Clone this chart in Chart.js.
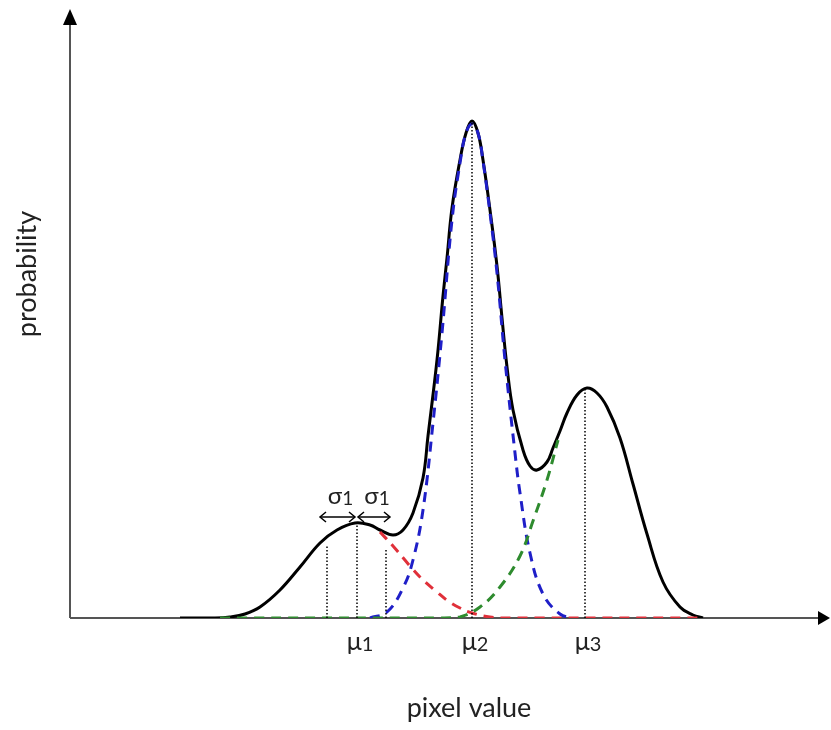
<!DOCTYPE html>
<html>
<head>
<meta charset="utf-8">
<script src="https://cdn.jsdelivr.net/npm/chart.js@4"></script>
<style>
  body { margin: 0; background: #fff; }
  #wrap { width: 831px; height: 730px; }
</style>
</head>
<body>
<div id="wrap"><canvas id="mix-chart"></canvas></div>
<script>
// values (x = pixel value units, y = probability units)
const mixX = [110, 145, 160, 175, 190, 210, 230, 250, 267, 285, 300, 310, 323, 333, 343, 353, 358, 367, 373, 377, 382, 390, 396, 402, 408, 413, 420, 427, 432, 437, 443, 453, 460, 467, 477, 483, 490, 497, 507, 517, 527, 537, 550, 563, 577, 593, 610, 623, 633];
const mixY = [0, 0, 1, 4, 11, 28, 51, 75, 88, 95, 93, 88, 83, 88, 105, 140, 182, 258, 322, 360, 410, 458, 485, 497, 485, 458, 408, 352, 300, 251, 208, 168, 152, 148, 156, 170, 187, 205, 223, 230, 225, 211, 180, 134, 84, 36, 11, 3, 0];

const comp1X = [310, 323, 340, 353, 367, 378, 390, 402, 420, 440, 630];
const comp1Y = [86, 72, 52, 38, 26, 17, 10, 5, 1, 0, 0];

const comp2X = [300, 317, 333, 343, 353, 363, 372, 382, 390, 396, 402, 408, 413, 420, 427, 435, 445, 450, 460, 473, 490, 503];
const comp2Y = [0, 6, 30, 58, 108, 195, 285, 398, 455, 485, 494, 485, 457, 405, 345, 258, 165, 125, 65, 24, 4, 0];

const comp3X = [150, 370, 390, 410, 430, 450, 463, 477, 488];
const comp3Y = [0, 0, 1, 11, 31, 62, 97, 138, 178];

const muX = [287, 402, 515];
const muH = [93, 496, 230];
const muLabels = ['μ', 'μ', 'μ'];
const muSubs = ['1', '2', '3'];
const sigmaX = [257, 316];
const sigmaH = [73, 70];
const sigmaLabels = ['σ', 'σ'];
const sigmaSub = '1';
const arrowY = 101;
const arrowSpans = [[250, 285], [288, 320]];

const xTitle = 'pixel value';
const yTitle = 'probability';

const FONT = 'Lato, "Open Sans", sans-serif';

function pts(xs, ys) {
  return xs.map((x, i) => ({ x: x, y: ys[i] }));
}

const datasets = [];
// dotted guide lines
muX.forEach((m, i) => {
  datasets.push({ data: [{ x: m, y: 0 }, { x: m, y: muH[i] }], borderColor: '#000', borderWidth: 1.5, borderDash: [1.5, 2], pointRadius: 0 });
});
sigmaX.forEach((s, i) => {
  datasets.push({ data: [{ x: s, y: 0 }, { x: s, y: sigmaH[i] }], borderColor: '#000', borderWidth: 1.5, borderDash: [1.5, 2], pointRadius: 0 });
});
// sigma arrow shafts
arrowSpans.forEach(sp => {
  datasets.push({ data: [{ x: sp[0], y: arrowY }, { x: sp[1], y: arrowY }], borderColor: '#000', borderWidth: 1.5, pointRadius: 0 });
});
// components
datasets.push({ label: 'c3', data: pts(comp3X, comp3Y), borderColor: '#2e8b2e', borderWidth: 3, borderDash: [10, 7], pointRadius: 0, tension: 0.4 });
datasets.push({ label: 'c1', data: pts(comp1X, comp1Y), borderColor: '#e0303a', borderWidth: 3, borderDash: [10, 7], pointRadius: 0, tension: 0.4 });
datasets.push({ label: 'c2', data: pts(comp2X, comp2Y), borderColor: '#1f1fc8', borderWidth: 3, borderDash: [10, 7], pointRadius: 0, tension: 0.4 });
// mixture
datasets.push({ label: 'mix', data: pts(mixX, mixY), borderColor: '#000', borderWidth: 3, pointRadius: 0, tension: 0.4 });

const axesPlugin = {
  id: 'axes',
  beforeDatasetsDraw(chart) {
    const ctx = chart.ctx;
    const a = chart.chartArea;
    ctx.save();
    ctx.strokeStyle = '#555';
    ctx.lineWidth = 2;
    ctx.beginPath();
    ctx.moveTo(a.left, a.bottom);
    ctx.lineTo(a.left, a.top + 12);
    ctx.moveTo(a.left, a.bottom);
    ctx.lineTo(a.right - 8, a.bottom);
    ctx.stroke();
    ctx.fillStyle = '#000';
    ctx.beginPath();
    ctx.moveTo(a.left, a.top);
    ctx.lineTo(a.left - 7, a.top + 16);
    ctx.lineTo(a.left + 7, a.top + 16);
    ctx.closePath();
    ctx.fill();
    ctx.beginPath();
    ctx.moveTo(a.right, a.bottom);
    ctx.lineTo(a.right - 12, a.bottom - 7);
    ctx.lineTo(a.right - 12, a.bottom + 7);
    ctx.closePath();
    ctx.fill();
    ctx.restore();
  },
  afterDatasetsDraw(chart) {
    const ctx = chart.ctx;
    const xs = chart.scales.x;
    const ys = chart.scales.y;
    const a = chart.chartArea;
    ctx.save();
    ctx.fillStyle = '#222';
    ctx.strokeStyle = '#000';
    ctx.lineWidth = 1.5;
    // arrow heads
    const ay = ys.getPixelForValue(arrowY);
    arrowSpans.forEach(sp => {
      const l = xs.getPixelForValue(sp[0]);
      const r = xs.getPixelForValue(sp[1]);
      ctx.beginPath();
      ctx.moveTo(l + 6, ay - 5); ctx.lineTo(l, ay); ctx.lineTo(l + 6, ay + 5);
      ctx.moveTo(r - 6, ay - 5); ctx.lineTo(r, ay); ctx.lineTo(r - 6, ay + 5);
      ctx.stroke();
    });
    // sub-scripted labels
    function subLabel(main, sub, cx, by, size) {
      ctx.font = size + 'px ' + FONT;
      const w1 = ctx.measureText(main).width;
      ctx.font = Math.round(size * 0.8) + 'px ' + FONT;
      const w2 = ctx.measureText(sub).width;
      const x0 = cx - (w1 + w2) / 2;
      ctx.textAlign = 'left';
      ctx.textBaseline = 'alphabetic';
      ctx.font = size + 'px ' + FONT;
      ctx.fillText(main, x0, by);
      ctx.font = Math.round(size * 0.8) + 'px ' + FONT;
      ctx.fillText(sub, x0 + w1, by + 1);
    }
    muX.forEach((m, i) => {
      subLabel(muLabels[i], muSubs[i], xs.getPixelForValue(m) + 3, a.bottom + 32, 25);
    });
    arrowSpans.forEach((sp, i) => {
      const cx = (xs.getPixelForValue(sp[0]) + xs.getPixelForValue(sp[1])) / 2;
      subLabel(sigmaLabels[i], sigmaSub, cx + 3, ay - 13, 24);
    });
    // titles
    ctx.font = '27px ' + FONT;
    ctx.textAlign = 'center';
    ctx.textBaseline = 'middle';
    ctx.fillText(xTitle, 469, 708);
    ctx.translate(27, 274);
    ctx.rotate(-Math.PI / 2);
    ctx.fillText(yTitle, 0, 0);
    ctx.restore();
  }
};

new Chart(document.getElementById('mix-chart'), {
  type: 'line',
  data: { datasets: datasets },
  options: {
    responsive: true,
    maintainAspectRatio: false,
    animation: false,
    layout: { padding: { left: 70, right: 1, top: 9, bottom: 112 } },
    plugins: { legend: { display: false }, tooltip: { enabled: false } },
    scales: {
      x: { type: 'linear', min: 0, max: 760, display: false },
      y: { type: 'linear', min: 0, max: 609, display: false }
    }
  },
  plugins: [axesPlugin]
});
</script>
</body>
</html>
